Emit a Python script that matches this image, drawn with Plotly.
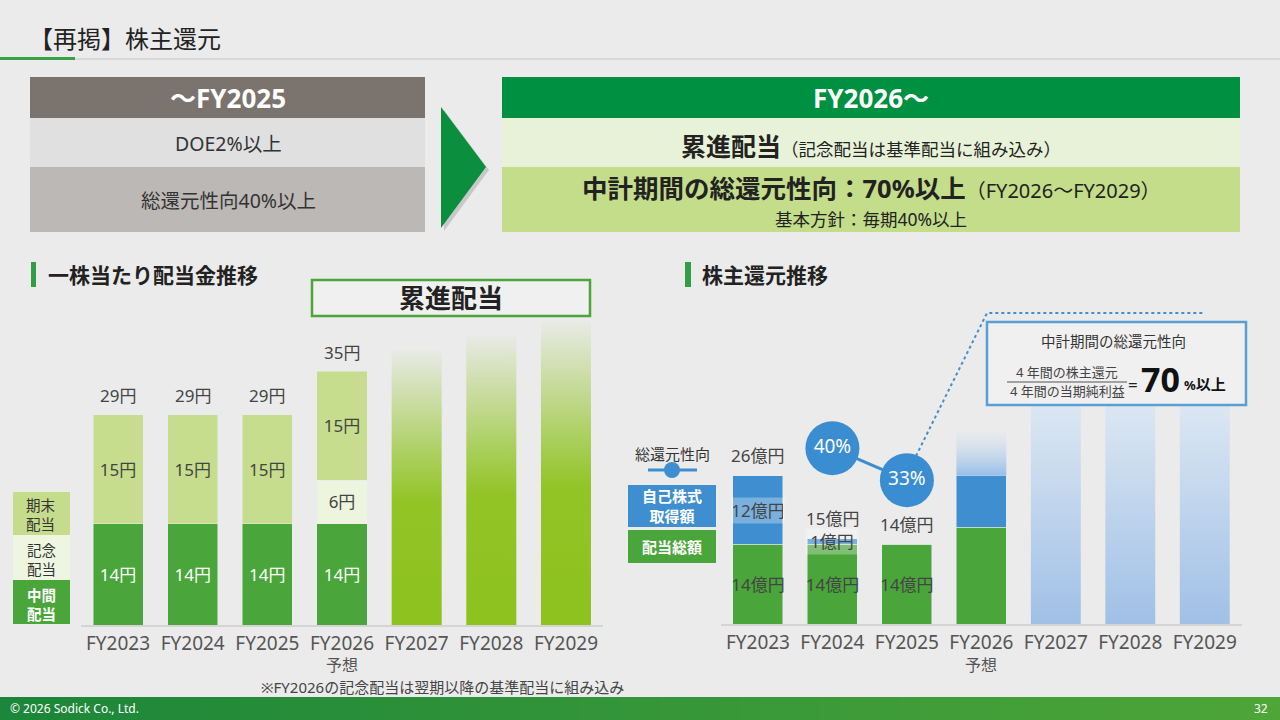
import plotly.graph_objects as go

# ---- data ----
years = ["FY2023", "FY2024", "FY2025", "FY2026", "FY2027", "FY2028", "FY2029"]
tick_labels = ["FY2023", "FY2024", "FY2025", "FY2026", "FY2027", "FY2028", "FY2029"]
forecast_idx = 3
forecast_label = "予想"

# dividend per share (yen)
dps_interim = [14, 14, 14, 14]
dps_commem = [0, 0, 0, 6]
dps_yearend = [15, 15, 15, 15]
dps_total = [29, 29, 29, 35]
dps_future = [38, 40, 42]          # illustrative bars FY2027-FY2029

# shareholder return (100 million yen)
ret_dividend = [14, 14, 14, 17]
ret_buyback = [12, 1, 0, 9]
ret_total = [26, 15, 14]
ret_upside = 8                     # faded part on FY2026
ret_future = [40, 40, 40]          # illustrative bars FY2027-FY2029
payout_years = [1, 2]
payout = [40, 33]

FONT = "Noto Sans, Noto Sans CJK JP"
BG = "#ebebeb"
GREEN = "#4aa53a"
LIGHT = "#c5dd8c"
BLUE = "#3f8fd0"
BAR_W = 0.67
W, H = 1280, 720


def X(p):
    return p / W


def Y(p):
    return 1 - p / H


fig = go.Figure()

# ---- left chart: dividend per share ----
idx = list(range(len(dps_interim)))
bar_kw = dict(width=BAR_W, textposition="inside", insidetextanchor="middle", textangle=0)
fig.add_trace(go.Bar(x=idx, y=dps_interim, marker_color=GREEN,
                     text=[f"{v}円" for v in dps_interim],
                     textfont=dict(color="white", size=17), **bar_kw))
fig.add_trace(go.Bar(x=idx, y=dps_commem, marker_color="#eef5df",
                     text=[f"{v}円" if v else "" for v in dps_commem],
                     textfont=dict(color="#444", size=17), **bar_kw))
fig.add_trace(go.Bar(x=idx, y=dps_yearend, marker_color=LIGHT,
                     text=[f"{v}円" for v in dps_yearend],
                     textfont=dict(color="#444", size=17), **bar_kw))

for k, h in enumerate(dps_future):
    i = len(dps_interim) + k
    fig.add_trace(go.Scatter(
        x=[i - BAR_W / 2, i + BAR_W / 2, i + BAR_W / 2, i - BAR_W / 2, i - BAR_W / 2],
        y=[0, 0, h, h, 0], mode="lines", line=dict(width=0), fill="toself",
        fillgradient=dict(type="vertical", colorscale=[
            [0, "rgb(141,194,31)"], [0.45, "rgb(146,196,38)"],
            [1, "rgba(141,194,31,0.02)"]]),
        hoverinfo="skip"))

# ---- right chart: shareholder return ----
ridx = list(range(len(ret_dividend)))
fig.add_trace(go.Bar(x=ridx, y=ret_dividend, marker_color=GREEN,
                     xaxis="x2", yaxis="y2",
                     text=[f"{v}億円" if i < len(ret_total) else "" for i, v in enumerate(ret_dividend)],
                     textfont=dict(color="#444", size=17), **bar_kw))
fig.add_trace(go.Bar(x=ridx, y=ret_buyback, width=BAR_W, marker_color=BLUE,
                     xaxis="x2", yaxis="y2"))

# faded upside on FY2026
i = forecast_idx
base = ret_dividend[i] + ret_buyback[i]
fig.add_trace(go.Scatter(
    x=[i - BAR_W / 2, i + BAR_W / 2, i + BAR_W / 2, i - BAR_W / 2, i - BAR_W / 2],
    y=[base, base, base + ret_upside, base + ret_upside, base],
    mode="lines", line=dict(width=0), fill="toself", xaxis="x2", yaxis="y2",
    fillgradient=dict(type="vertical", colorscale=[
        [0, "rgba(150,190,232,1)"], [1, "rgba(200,220,240,0.05)"]]),
    hoverinfo="skip"))

for k, h in enumerate(ret_future):
    i = len(ret_dividend) + k
    fig.add_trace(go.Scatter(
        x=[i - BAR_W / 2, i + BAR_W / 2, i + BAR_W / 2, i - BAR_W / 2, i - BAR_W / 2],
        y=[0, 0, h, h, 0], mode="lines", line=dict(width=0), fill="toself",
        xaxis="x2", yaxis="y2",
        fillgradient=dict(type="vertical", colorscale=[
            [0, "rgb(160,192,230)"], [1, "rgb(222,232,243)"]]),
        hoverinfo="skip"))

# total payout ratio
fig.add_trace(go.Scatter(x=payout_years, y=payout, xaxis="x2", yaxis="y3",
                         mode="lines+markers+text", cliponaxis=False,
                         line=dict(color="#3a8dd0", width=3),
                         marker=dict(size=54, color="#3a8dd0"),
                         text=[f"{v}%" for v in payout], textposition="middle center",
                         textfont=dict(color="white", size=19)))

annotations = []


def txt(x, y, s, size=14, color="#333", bold=False, xanchor="center", **kw):
    annotations.append(dict(x=X(x), y=Y(y), xref="paper", yref="paper",
                            text=f"<b>{s}</b>" if bold else s, showarrow=False,
                            xanchor=xanchor, yanchor="middle",
                            font=dict(family=FONT, size=size, color=color), **kw))


# totals above bars
for i, v in enumerate(dps_total):
    annotations.append(dict(x=i, y=v, xref="x", yref="y", text=f"{v}円", showarrow=False,
                            yshift=19, font=dict(family=FONT, size=17, color="#444")))
for i, v in enumerate(ret_total):
    annotations.append(dict(x=i, y=v, xref="x2", yref="y2", text=f"{v}億円", showarrow=False,
                            yshift=20, font=dict(family=FONT, size=17, color="#444")))
# buyback labels
for i, v in enumerate(ret_buyback[:len(ret_total)]):
    if v:
        annotations.append(dict(x=i, y=ret_dividend[i] + v / 2, xref="x2", yref="y2",
                                text=f"{v}億円", showarrow=False, width=50, height=23,
                                bgcolor="rgba(255,255,255,0.3)",
                                font=dict(family=FONT, size=17, color="#444")))
# forecast marker under FY2026 ticks
for xr in ("x", "x2"):
    annotations.append(dict(x=forecast_idx, y=Y(665), xref=xr, yref="paper",
                            text=forecast_label, showarrow=False, yanchor="middle",
                            font=dict(family=FONT, size=16, color="#555")))

# header
txt(27, 38, "【再掲】株主還元", 24, "#222", xanchor="left")
txt(228, 98, "～FY2025", 26, "white", True)
txt(228, 144, "DOE2%以上", 19.5, "#333")
txt(228, 200, "総還元性向40%以上", 19.5, "#333")
txt(871, 98, "FY2026～", 26, "white", True)
txt(871, 146, "<b>累進配当</b><span style='font-size:17.5px'>（記念配当は基準配当に組み込み）</span>", 25, "#222")
txt(871, 188, "<b>中計期間の総還元性向：70%以上</b><span style='font-size:20px'>（FY2026～FY2029）</span>", 25.5, "#222")
txt(871, 219, "基本方針：毎期40%以上", 17.5, "#222")

# section titles
txt(46, 275, "一株当たり配当金推移", 21, "#222", True, xanchor="left")
txt(700, 275, "株主還元推移", 21, "#222", True, xanchor="left")
txt(451, 298, "累進配当", 26, "#222", True)

# left legend
txt(41, 514, "期末<br>配当", 14.5, "#333")
txt(41, 559, "記念<br>配当", 14.5, "#333")
txt(41, 604, "中間<br>配当", 14.5, "white", True)

# right legend
txt(672, 454, "総還元性向", 15, "#333")
txt(672, 506, "自己株式<br>取得額", 15, "white", True)
txt(672, 547, "配当総額", 15, "white", True)

# formula box
txt(1113, 341, "中計期間の総還元性向", 14.5, "#333")
txt(1067, 372, "4 年間の株主還元", 13, "#444")
txt(1067, 391, "4 年間の当期純利益", 13, "#444")
txt(1133, 384, "=", 17, "#222")
txt(1139, 379, "70", 34, "#111", True, xanchor="left")
txt(1182, 384, "<span style='font-size:13px'>%</span>以上", 15, "#111", True, xanchor="left")

# footnote and footer
txt(442, 687, "※FY2026の記念配当は翌期以降の基準配当に組み込み", 15, "#444")
txt(8, 708, "© 2026 Sodick Co., Ltd.", 12, "white", xanchor="left")
txt(1270, 708, "32", 12, "white", xanchor="right")


def rect(x0, y0, x1, y1, fill, line=None, lw=0, layer="below"):
    return dict(type="rect", xref="paper", yref="paper", x0=X(x0), x1=X(x1),
                y0=Y(y0), y1=Y(y1), fillcolor=fill, layer=layer,
                line=dict(color=line or fill, width=lw))


def path(pts, **kw):
    d = "M " + " L ".join(f"{X(a):.5f},{Y(b):.5f}" for a, b in pts)
    return dict(type="path", xref="paper", yref="paper", path=d, **kw)


shapes = [
    rect(0, 57, 75, 60, "#3aa048"),
    rect(75, 58, 1280, 60, "#d9d9d9"),
    rect(30, 77, 425, 118, "#7b736e"),
    rect(30, 118, 425, 167, "#e0e0e0"),
    rect(30, 167, 425, 232, "#bcb8b5"),
    path([(444, 110), (489, 170), (444, 231)], fillcolor="rgba(0,0,0,0.15)",
         line=dict(width=0), layer="below"),
    path([(441, 107), (486, 167), (441, 228)], fillcolor="#0b8e3e",
         line=dict(width=0), layer="below"),
    rect(502, 77, 1240, 118, "#009041"),
    rect(502, 118, 1240, 167, "#e8f2d8"),
    rect(502, 167, 1240, 232, "#c4dd8a"),
    rect(31, 262, 36, 287, "#2f9e44"),
    rect(685, 262, 691, 287, "#2f9e44"),
    rect(312, 280, 590, 316, "rgba(255,255,255,0.25)", "#4aa53a", 2.5),
    rect(13, 492, 70, 535, "#c5dc8c"),
    rect(13, 535, 70, 580, "#eef5e0"),
    rect(13, 580, 70, 624, GREEN),
    dict(type="line", xref="paper", yref="paper", x0=X(648), x1=X(697), y0=Y(470), y1=Y(470),
         line=dict(color=BLUE, width=3)),
    dict(type="circle", xref="paper", yref="paper", x0=X(664), x1=X(680), y0=Y(462), y1=Y(478),
         fillcolor=BLUE, line=dict(width=0)),
    rect(628, 485, 716, 527, BLUE),
    rect(628, 530, 716, 563, GREEN),
    path([(916, 456), (987, 313), (1205, 313)], line=dict(color=BLUE, width=2, dash="dot"),
         layer="above"),
    rect(987, 322, 1246, 405, "#f0f0f0", "#5a9fd4", 2.5, layer="above"),
    dict(type="line", xref="paper", yref="paper", x0=X(1007), x1=X(1127), y0=Y(382), y1=Y(382),
         line=dict(color="#555", width=1), layer="above"),
]

# footer band with stepped gradient
steps = 64
for s in range(steps):
    t = s / (steps - 1)
    r, g, b = int(28 + t * 50), int(134 + t * 32), int(58 - t * 2)
    shapes.append(rect(s * W / steps, 697, (s + 1) * W / steps + 1, 720, f"rgb({r},{g},{b})"))

axis_common = dict(range=[-0.5, 6.5], tickmode="array", tickvals=list(range(len(years))),
                   ticktext=tick_labels, showgrid=False, zeroline=False, showline=True,
                   linecolor="#d4d4d4", linewidth=1.5, ticks="",
                   tickfont=dict(family=FONT, size=19, color="#555"), fixedrange=True)

fig.update_layout(
    width=W, height=H, autosize=False,
    margin=dict(l=0, r=0, t=0, b=0),
    paper_bgcolor=BG, plot_bgcolor="rgba(0,0,0,0)",
    barmode="stack", showlegend=False,
    font=dict(family=FONT, color="#333"),
    uniformtext=dict(minsize=14, mode="show"),
    xaxis=dict(domain=[X(80.7), X(603.3)], anchor="y", **axis_common),
    yaxis=dict(domain=[Y(625), Y(299)], range=[0, 45], visible=False, fixedrange=True),
    xaxis2=dict(domain=[X(720.7), X(1242)], anchor="y2", **axis_common),
    yaxis2=dict(domain=[Y(624), Y(339)], range=[0, 50], visible=False, fixedrange=True,
                anchor="x2"),
    yaxis3=dict(overlaying="y2", range=[1.5, 63.9], visible=False, fixedrange=True,
                anchor="x2"),
    shapes=shapes,
    annotations=annotations,
)

fig.write_html("out.html", config={"displayModeBar": False},
               post_script="document.body.style.margin='0';")
